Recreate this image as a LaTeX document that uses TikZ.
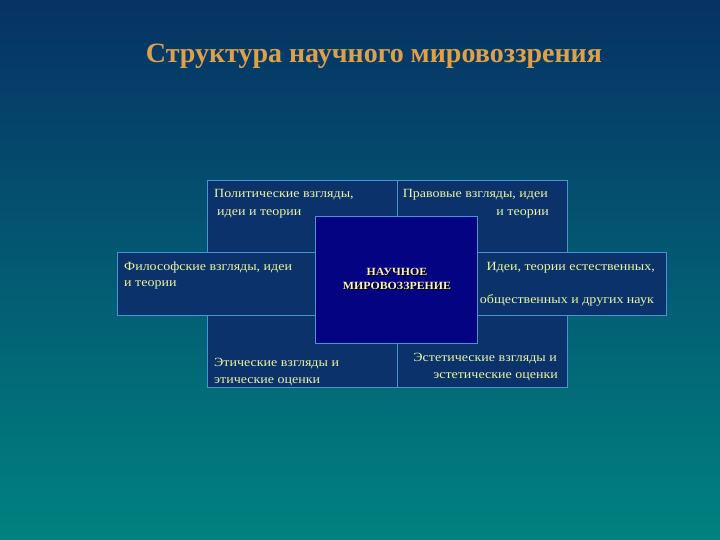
\documentclass[tikz,border=0pt]{standalone}
\usepackage{fontspec}
\setmainfont{Liberation Serif}
\newfontfamily\widefont[FakeStretch=1.12]{Liberation Serif}
\newfontfamily\corefont[FakeStretch=1.08]{Liberation Serif}
\definecolor{bgtop}{RGB}{6,50,100}
\definecolor{bgbot}{RGB}{0,130,128}
\definecolor{boxfill}{RGB}{12,50,108}
\definecolor{boxline}{RGB}{70,150,215}
\definecolor{corefill}{RGB}{4,4,130}
\definecolor{txt}{RGB}{232,245,160}
\definecolor{titlecol}{RGB}{222,160,72}
\definecolor{coretxt}{RGB}{250,240,190}
\begin{document}
\begin{tikzpicture}[x=1pt,y=-1pt,
  panel/.style={draw=boxline,fill=boxfill,line width=0.9pt,inner sep=0pt},
  core/.style={draw=boxline,fill=corefill,line width=0.9pt,inner sep=0pt},
  lbl/.style={text=txt,font=\widefont\fontsize{12.5}{16}\selectfont,inner sep=0pt},
  coretext/.style={font=\corefont\fontsize{11}{14}\selectfont\bfseries,anchor=base,inner sep=0pt},
]
\shade[top color=bgtop,bottom color=bgbot] (0,0) rectangle (720,540);
\useasboundingbox (0,0) rectangle (720,540);
\node[text=titlecol,font=\fontsize{28}{32}\selectfont\bfseries,anchor=base] (title) at (374,63) {Структура научного мировоззрения};
% quadrant panels
\node[panel,minimum width=190pt,minimum height=103.5pt,anchor=north west] (tl) at (207,180) {};
\node[panel,minimum width=170pt,minimum height=103.5pt,anchor=north west] (tr) at (397,180) {};
\node[panel,minimum width=190pt,minimum height=103.5pt,anchor=north west] (bl) at (207,283.5) {};
\node[panel,minimum width=170pt,minimum height=103.5pt,anchor=north west] (br) at (397,283.5) {};
% side panels
\node[panel,minimum width=200pt,minimum height=63pt,anchor=north west] (left) at (117,252) {};
\node[panel,minimum width=190pt,minimum height=63pt,anchor=north east] (right) at (667,252) {};
% core
\node[core,minimum width=162pt,minimum height=126pt,anchor=north west] (core) at (315,216.5) {};
% texts
\node[lbl,anchor=base west] (t1a) at (214,198) {Политические взгляды,};
\node[lbl,anchor=base west] (t1b) at (217,215) {идеи и теории};
\node[lbl,anchor=base east] (t2a) at (548,198) {Правовые взгляды, идеи};
\node[lbl,anchor=base east] (t2b) at (549,215) {и теории};
\node[lbl,anchor=base west] (t3a) at (124,270) {Философские взгляды, идеи};
\node[lbl,anchor=base west] (t3b) at (124,286) {и теории};
\node[lbl,anchor=base east] (t4a) at (655,270) {Идеи, теории естественных,};
\node[lbl,anchor=base east] (t4b) at (654,303) {общественных и других наук};
\node[lbl,anchor=base west] (t5a) at (214,366) {Этические взгляды и};
\node[lbl,anchor=base west] (t5b) at (214,383) {этические оценки};
\node[lbl,anchor=base east] (t6a) at (557,361) {Эстетические взгляды и};
\node[lbl,anchor=base east] (t6b) at (558,378) {эстетические оценки};
\node[coretext,text=black] (cs1) at (398.2,276.2) {НАУЧНОЕ};
\node[coretext,text=black] (cs2) at (398.2,290.2) {МИРОВОЗЗРЕНИЕ};
\node[coretext,text=coretxt] (ct1) at (397,275) {НАУЧНОЕ};
\node[coretext,text=coretxt] (ct2) at (397,289) {МИРОВОЗЗРЕНИЕ};
\end{tikzpicture}
\end{document}
